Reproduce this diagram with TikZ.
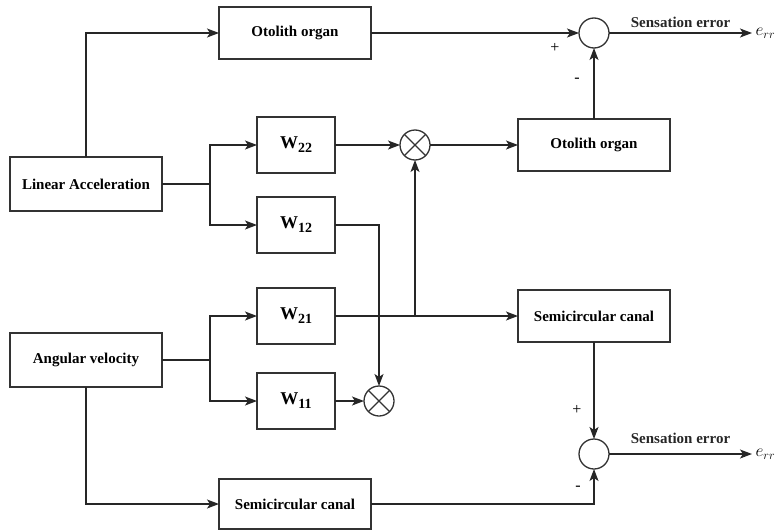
\documentclass[tikz,border=0pt]{standalone}
\usepackage{amsmath}
\usepackage{fontspec}
\setmainfont{Liberation Serif}
\usepackage{tikz}
\usetikzlibrary{positioning, arrows.meta}

\begin{document}
\begin{tikzpicture}[
    x=1pt, y=-1pt,
    font=\bfseries\fontsize{15}{17}\selectfont,
    block/.style={draw=black!80, line width=1.3pt, minimum width=152pt, minimum height=52pt, inner sep=0pt, outer sep=0pt},
    wbox/.style={block, minimum width=78pt, minimum height=56pt, font=\bfseries\fontsize{18}{20}\selectfont},
    sum/.style={draw=black!80, line width=1.3pt, circle, minimum size=30pt, inner sep=0pt, outer sep=0pt},
    mult/.style={sum, path picture={
        \draw[black!80, line width=1.3pt]
            (path picture bounding box.north west) -- (path picture bounding box.south east)
            (path picture bounding box.north east) -- (path picture bounding box.south west);}},
    arrow/.style={-{Stealth[length=12pt, width=9pt, inset=3pt]}, line width=1.3pt, black!85},
    line/.style={line width=1.3pt, black!85},
    sign/.style={font=\fontsize{16}{18}\selectfont}
]
    \useasboundingbox (0,0) rectangle (776,530);

    \node[block, minimum height=54pt] (lin) at (86,184) {Linear Acceleration};
    \node[block, minimum height=54pt, below=122pt of lin] (ang) {Angular velocity};
    \node[block] (oto1) at (295,33) {Otolith organ};
    \node[block, minimum height=50pt] (scc1) at (295,504) {Semicircular canal};

    \node[wbox] (w22) at (296,145) {W{\fontsize{14}{14}\selectfont\raisebox{-4pt}{22}}};
    \node[wbox, below=24pt of w22] (w12) {W{\fontsize{14}{14}\selectfont\raisebox{-4pt}{12}}};
    \node[wbox] (w21) at (296,316) {W{\fontsize{14}{14}\selectfont\raisebox{-4pt}{21}}};
    \node[wbox, below=29pt of w21] (w11) {W{\fontsize{14}{14}\selectfont\raisebox{-4pt}{11}}};

    \node[mult] (m1) at (415,145) {};
    \node[mult] (m2) at (379,401) {};

    \node[block, right=88pt of m1] (oto2) {Otolith organ};
    \node[block, below=119pt of oto2] (scc2) {Semicircular canal};

    \node[sum, above=71pt of oto2] (s1) {};
    \node[sum, below=97pt of scc2] (s2) {};

    \coordinate (b1) at (210,184);
    \coordinate (b2) at (210,360);
    \coordinate (out1) at (752,33);
    \coordinate (out2) at (752,454);

    \node[anchor=west, font=\fontsize{17}{19}\selectfont] (e1) at (out1) {$e_{rr}$};
    \node[anchor=west, font=\fontsize{17}{19}\selectfont] (e2) at (out2) {$e_{rr}$};

    % upper loop
    \draw[arrow] (lin.north) |- (oto1.west);
    \draw[arrow] (oto1) -- (s1);
    \draw[arrow] (oto2) -- (s1);
    \draw[arrow] (s1) -- node[above=1pt] (err1) {Sensation error} (out1);

    \draw[line] (lin) -- (b1);
    \draw[arrow] (b1) |- (w22);
    \draw[arrow] (b1) |- (w12);
    \draw[arrow] (w22) -- (m1);
    \draw[arrow] (w12) -| (m2);
    \draw[arrow] (m1) -- (oto2);

    % lower loop
    \draw[line] (ang) -- (b2);
    \draw[arrow] (b2) |- (w21);
    \draw[arrow] (b2) |- (w11);
    \draw[arrow] (w21) -- (scc2);
    \draw[arrow] (m1 |- w21) -- (m1);
    \draw[arrow] (w11) -- (m2);
    \draw[arrow] (ang.south) |- (scc1.west);
    \draw[arrow] (scc1) -| (s2);
    \draw[arrow] (scc2) -- (s2);
    \draw[arrow] (s2) -- node[above=6pt] (err2) {Sensation error} (out2);

    \node[sign] (p1) at (555,48) {+};
    \node[sign] (n1) at (577,80) {-};
    \node[sign] (p2) at (577,410) {+};
    \node[sign] (n2) at (578,488) {-};
\end{tikzpicture}
\end{document}
